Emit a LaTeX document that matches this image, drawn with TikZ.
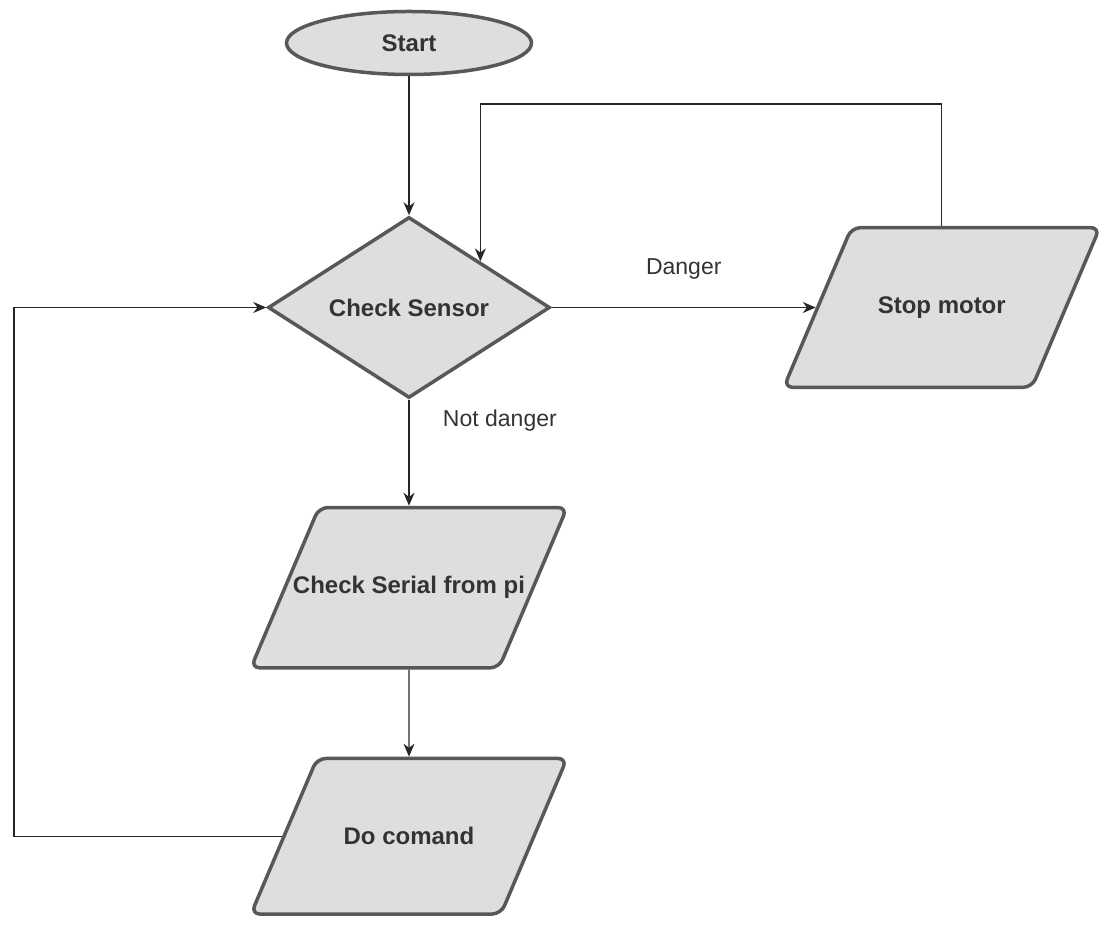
\documentclass[tikz,border=0pt]{standalone}
\usepackage{fontspec}
\setmainfont{Liberation Sans}
\usetikzlibrary{positioning,shapes.geometric,arrows.meta}

\definecolor{boxfill}{RGB}{222,222,222}
\definecolor{boxline}{RGB}{88,88,88}

\tikzset{
	block/.style={draw=boxline, fill=boxfill, line width=3.5pt, inner sep=0pt,
		font=\fontsize{24}{28}\selectfont\bfseries, text=black!80},
	term/.style={block, ellipse, minimum width=245pt, minimum height=63pt},
	decision/.style={block, diamond, aspect=1.56, minimum width=282pt, minimum height=181pt},
	io/.style={block, trapezium, trapezium left angle=67, trapezium right angle=113,
		trapezium stretches body, rounded corners=9pt, inner ysep=69pt, inner xsep=-26pt,
		minimum width=316pt},
	edge/.style={draw=black!85, line width=1.3pt, -{Stealth[length=13pt,width=11pt]}},
	lbl/.style={font=\fontsize{23}{27}\selectfont, text=black!80}
}

\begin{document}
\begin{tikzpicture}
		\useasboundingbox (0,0) rectangle (1100pt,924pt);
		
		\node[term] (start) at (409pt,881pt) {Start};
		\node[decision, below=139pt of start] (sensor) {Check Sensor};
		\node[io, right=264pt of sensor] (stop) {Stop motor};
		\node[io, below=106pt of sensor] (serial) {Check Serial from pi};
		\node[io, below=87pt of serial] (cmd) {Do comand};
		
		\draw[edge] (start) -- (sensor);
		
		\draw[edge] (sensor.east) -- node[lbl, midway, above=24pt] {Danger} (stop.west);
		\draw[edge] (stop.north) -- ++(0,122pt) -| (sensor.north east);
		
		\draw[edge] (sensor.south) -- node[lbl, pos=0.2, right=30pt] {Not danger} (serial.north);
		\draw[edge] (serial) -- (cmd);
		
		\draw[edge] (cmd.west) -- ++(-268pt,0) |- (sensor.west);
\end{tikzpicture}
\end{document}
